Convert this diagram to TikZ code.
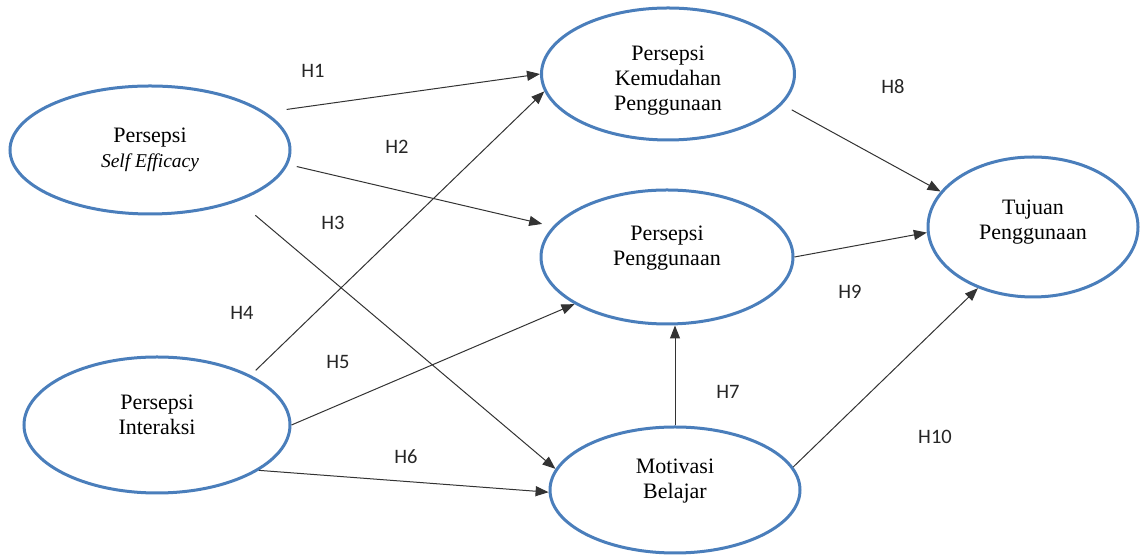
\documentclass[tikz,border=0pt]{standalone}
\usepackage{fontspec}
\setmainfont{Liberation Serif}
\newfontfamily\hfont{Carlito}
\usetikzlibrary{arrows.meta}
\usetikzlibrary{shapes.geometric}
\definecolor{ovalblue}{RGB}{74,126,187}

\begin{document}
\begin{tikzpicture}[
  construct/.style={ellipse, draw=ovalblue, line width=3pt, inner sep=0pt},
  txt/.style={align=center, font=\fontsize{22}{25}\selectfont},
  hyp/.style={font=\hfont\fontsize{20.5}{24}\selectfont, text=black!85},
  link/.style={-{Triangle[length=13pt, width=10pt]}, line width=1pt, black!80}
]
\useasboundingbox (0,0) rectangle (1141pt, 556pt); % same frame as the figure

% constructs
\node[construct, minimum width=280pt, minimum height=128pt,
  label={[txt]center:Persepsi\\{\fontsize{19.5}{25}\selectfont\itshape Self Efficacy}}]
  (pse) at (150pt, 406pt) {};
\node[construct, minimum width=253pt, minimum height=132pt,
  label={[txt, yshift=-7pt]center:Persepsi\\Kemudahan\\Penggunaan}]
  (pkp) at (668pt, 482pt) {};
\node[construct, minimum width=252pt, minimum height=134pt,
  label={[txt, yshift=9pt]center:Persepsi\\Penggunaan}]
  (pp) at (667pt, 299pt) {};
\node[construct, minimum width=210pt, minimum height=140pt,
  label={[txt, yshift=5pt]center:Tujuan\\Penggunaan}]
  (tp) at (1033pt, 329pt) {};
\node[construct, minimum width=266pt, minimum height=136pt,
  label={[txt, yshift=10pt]center:Persepsi\\Interaksi}]
  (pi) at (157pt, 131pt) {};
\node[construct, minimum width=250pt, minimum height=126pt,
  label={[txt, yshift=9pt]center:Motivasi\\Belajar}]
  (mb) at (675pt, 66pt) {};

% hypotheses
\draw[link, shorten <=21pt] (pse.18) -- (pkp.180);
\draw[link, shorten <=9pt, shorten >=11pt] (pse.-6) -- (pp.165);
\draw[link, shorten <=22pt] (pse.-30) -- (mb.170);
\draw[link, shorten <=7pt] (pi.28) -- (pkp.188);
\draw[link] (pi.0) -- (pp.207);
\draw[link] (pi.-24.5) -- (mb.181);
\draw[link] (mb.north) -- (mb.north |- pp.south);
\draw[link, shorten <=11pt] (pkp.-15) -- (tp.159);
\draw[link] (pp.0) -- (tp.183);
\draw[link] (mb.11) -- (tp.228);

\node[hyp] (h1) at (313pt, 485pt) {H1};
\node[hyp] (h2) at (397pt, 409pt) {H2};
\node[hyp] (h3) at (333pt, 333pt) {H3};
\node[hyp] (h4) at (242pt, 243pt) {H4};
\node[hyp] (h5) at (338pt, 194pt) {H5};
\node[hyp] (h6) at (406pt, 99pt) {H6};
\node[hyp] (h7) at (728pt, 164pt) {H7};
\node[hyp] (h8) at (893pt, 469pt) {H8};
\node[hyp] (h9) at (850pt, 264pt) {H9};
\node[hyp] (h10) at (935pt, 119pt) {H10};
\end{tikzpicture}
\end{document}
